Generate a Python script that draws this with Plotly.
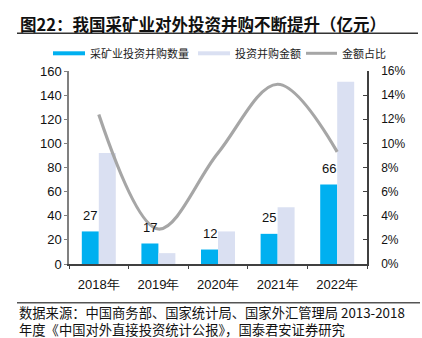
import plotly.graph_objects as go

# Data
years = ["2018年", "2019年", "2020年", "2021年", "2022年"]
deal_count = [27, 17, 12, 25, 66]          # 采矿业投资并购数量
deal_amount = [92, 9, 27, 47, 151]         # 投资并购金额（亿元）
amount_share = [12.4, 2.9, 9.2, 14.9, 9.3]  # 金额占比（%）

BLUE = "#00B0F0"
LAVENDER = "#DAE0F2"
GREY = "#A6A6A6"
CJK = "Noto Sans CJK SC"
LATIN = "Liberation Sans, Arial, sans-serif"

# plot-area geometry in pixels (used to place paper-referenced decorations)
W, H = 422, 338
ML, MR, MT, MB = 69, 55, 71, 74
PW, PH = W - ML - MR, H - MT - MB


def px(x):
    return (x - ML) / PW


def py(y):
    return (H - MB - y) / PH


fig = go.Figure()
fig.add_trace(go.Bar(x=years, y=deal_count, name="采矿业投资并购数量",
                     marker=dict(color=BLUE, line=dict(width=0))))
fig.add_trace(go.Bar(x=years, y=deal_amount, name="投资并购金额",
                     marker=dict(color=LAVENDER, line=dict(width=0))))
fig.add_trace(go.Scatter(x=years, y=amount_share, name="金额占比", yaxis="y2",
                         mode="lines", line=dict(color=GREY, width=3.2,
                                                 shape="spline", smoothing=1.0)))

bargap = 0.43
bar_w_px = PW / len(years) * (1 - bargap) / 2

annotations = []
# value labels above the count bars
for yr, v in zip(years, deal_count):
    annotations.append(dict(x=yr, y=v, xref="x", yref="y", text=str(v),
                            showarrow=False, xshift=-bar_w_px / 2, yshift=16,
                            yanchor="middle",
                            font=dict(family=LATIN, size=13, color="#111")))

# title and footnote
annotations.append(dict(x=px(18), y=py(24), xref="paper", yref="paper",
                        xanchor="left", yanchor="middle", showarrow=False,
                        text="<b>图22：我国采矿业对外投资并购不断提升（亿元）</b>",
                        font=dict(family=CJK, size=16.5, color="#111")))
annotations.append(dict(x=px(17), y=py(321), xref="paper", yref="paper",
                        xanchor="left", yanchor="middle", showarrow=False, align="left",
                        text="数据来源：中国商务部、国家统计局、国家外汇管理局 2013-2018"
                             "<br>年度《中国对外直接投资统计公报》，国泰君安证券研究",
                        font=dict(family=CJK, size=13.3, color="#111")))

shapes = [
    dict(type="line", xref="paper", yref="paper", x0=px(17), x1=px(418),
         y0=py(33.3), y1=py(33.3), line=dict(color="#333", width=1.5)),
    dict(type="line", xref="paper", yref="paper", x0=px(17), x1=px(420),
         y0=py(302.7), y1=py(302.7), line=dict(color="#555", width=1.5)),
]

# legend: long thin swatches with labels
legend_items = [
    (53, 85, BLUE, "采矿业投资并购数量", 4),
    (198, 230, LAVENDER, "投资并购金额", 4),
    (306, 337, GREY, "金额占比", 3),
]
LEG_Y = 53.3
for x0, x1, col, label, lw in legend_items:
    shapes.append(dict(type="line", xref="paper", yref="paper",
                       x0=px(x0), x1=px(x1), y0=py(LEG_Y), y1=py(LEG_Y),
                       line=dict(color=col, width=lw)))
    annotations.append(dict(x=px(x1 + 3), y=py(LEG_Y), xref="paper", yref="paper",
                            xanchor="left", yanchor="middle", showarrow=False,
                            text=label, font=dict(family=CJK, size=11, color="#222")))

fig.update_layout(
    width=W, height=H,
    margin=dict(l=ML, r=MR, t=MT, b=MB),
    paper_bgcolor="white", plot_bgcolor="white",
    barmode="group", bargap=bargap, bargroupgap=0,
    showlegend=False,
    xaxis=dict(type="category", showline=True, linecolor="#404040", linewidth=1.5,
               ticks="outside", ticklen=3, tickcolor="#404040", tickson="boundaries",
               ticklabelstandoff=8,
               showgrid=False, tickfont=dict(family=LATIN, size=13, color="#111")),
    yaxis=dict(range=[0, 160], dtick=20, showline=True, linecolor="#808080",
               linewidth=1.5, ticks="outside", ticklen=3, tickcolor="#808080",
               showgrid=False, zeroline=False,
               tickfont=dict(family=LATIN, size=13, color="#111")),
    yaxis2=dict(range=[0, 16], dtick=2, ticksuffix="%", overlaying="y", side="right",
                showline=True, linecolor="#404040", linewidth=1.5, ticks="inside",
                ticklen=4, tickcolor="#404040", showgrid=False, zeroline=False,
                ticklabelstandoff=10,
                tickfont=dict(family=LATIN, size=12, color="#111")),
    annotations=annotations,
    shapes=shapes,
)

fig.write_html("out.html")
